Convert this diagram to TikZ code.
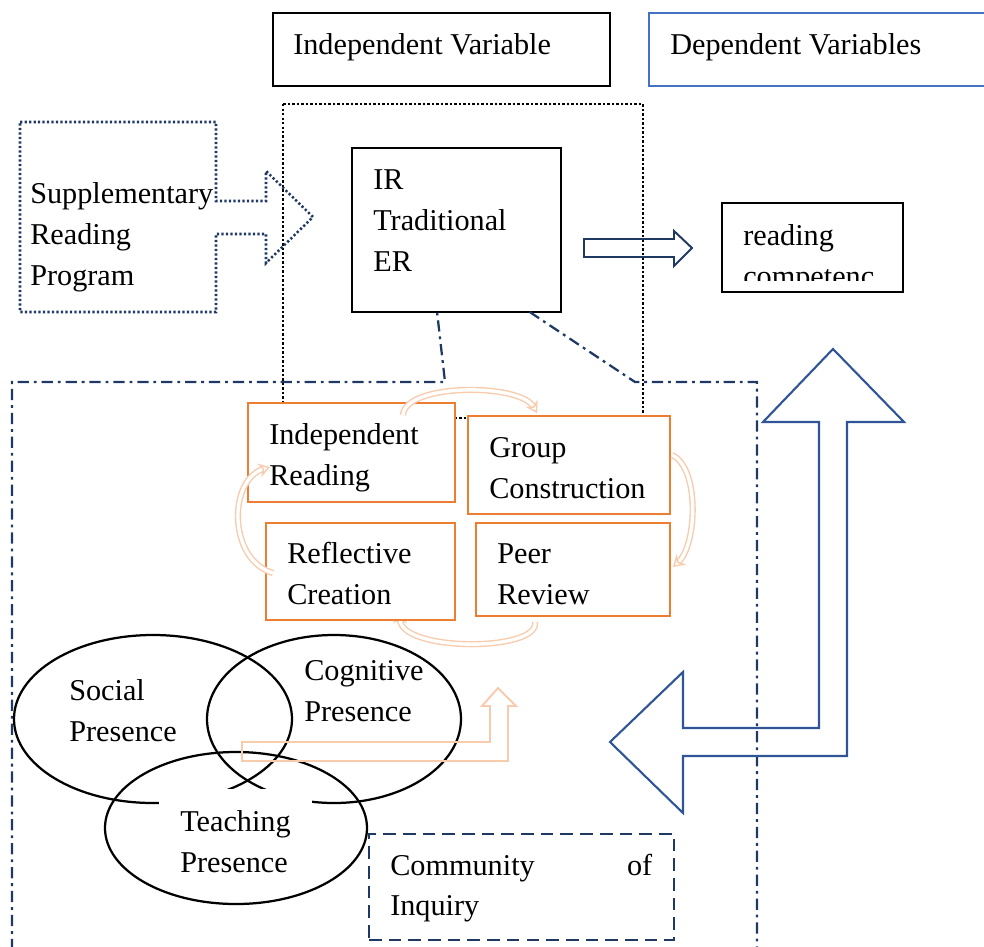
\documentclass[tikz,border=0pt]{standalone}
\usepackage{fontspec}
\setmainfont{Liberation Serif}
\usepackage{tikz}
\usetikzlibrary{arrows.meta}
\usetikzlibrary{shapes.geometric}
\usetikzlibrary{calc}

\definecolor{navy}{HTML}{1F3864}
\definecolor{dvblue}{HTML}{4472C4}
\definecolor{arrowblue}{HTML}{2F5597}
\definecolor{cycorange}{HTML}{ED7D31}
\definecolor{peach}{HTML}{F8CBAD}
\newcommand{\pxu}{0.025cm}

\begin{document}
\begin{tikzpicture}
        [ x=0.025cm, y=-0.025cm
        , txt/.style={font=\fontsize{21.5}{29}\selectfont, anchor=base west, align=left, inner sep=0}
        , boxframe/.style={draw, anchor=north west, inner sep=0, outer sep=0}
        , cycbox/.style={boxframe, draw=cycorange, fill=white, line width=1.8pt}
        , presence/.style={ellipse, draw, line width=1.6pt, inner sep=0}
        , cyclearrow/.style={draw=peach, line width=1pt, double=white, double distance=2.4pt, -{Stealth[open, length=8pt, width=10pt]}}
        , dotline/.style={line width=1.8pt, dash pattern=on 1.6pt off 1.6pt}
        , dashdotline/.style={draw=navy, line width=1.6pt, dash pattern=on 8pt off 3.5pt on 2pt off 3.5pt}
        ]
        \useasboundingbox (0,0) rectangle (984,946);

        % variable legend
        \node[boxframe, line width=1.6pt, minimum width=337*\pxu, minimum height=73*\pxu] (ivbox) at (273,13) {};
        \node[txt] (ivtext) at (293,55) {Independent Variable};
        \node[boxframe, draw=dvblue, line width=1.4pt, minimum width=340*\pxu, minimum height=73*\pxu] (dvbox) at (649,13) {};
        \node[txt] (dvtext) at (670,55) {Dependent Variables};

        % independent variable block
        \draw[dotline] (283,104) rectangle (643,418);
        \draw[dotline, navy] (20,122) -- (216,122) -- (216,201) -- (266,201) -- (266,171) -- (313,217)
            -- (266,263) -- (266,234) -- (216,234) -- (216,312) -- (20,312) -- cycle;
        \node[txt] (supptext) at (30,285) {Supplementary\\Reading\\Program};
        \node[boxframe, line width=0.8pt, minimum width=209*\pxu, minimum height=164*\pxu] (irbox) at (352,148) {};
        \node[txt] (irtext) at (373,271) {IR\\Traditional\\ER};

        % outcome
        \draw[navy, line width=1.4pt] (584,239) -- (674,239) -- (674,231) -- (692,248) -- (674,266) -- (674,257) -- (584,257) -- cycle;
        \node[boxframe, line width=2pt, minimum width=181*\pxu, minimum height=89*\pxu] (rcbox) at (722,203) {};
        \node[txt] (rctext) at (743,245) {reading};
        \begin{scope}
            \clip (722,203) rectangle (903,280);
            \node[txt] (rctext2) at (743,286) {competenc};
        \end{scope}

        % frame round the reading cycle
        \coordinate (frameL) at (445,382);
        \coordinate (frameR) at (635,382);
        \draw[dashdotline] (12,950) |- (frameL) -- ($(irbox.south west)!0.407!(irbox.south east)$);
        \draw[dashdotline] ($(irbox.south west)!0.85!(irbox.south east)$) -- (frameR) -| (757,950);

        % reading cycle
        \draw[cyclearrow] (535,622) .. controls (540,652) and (400,652) .. (400,612);
        \node[cycbox, minimum width=207*\pxu, minimum height=99*\pxu] (indread) at (248,403) {};
        \node[cycbox, minimum width=202*\pxu, minimum height=98*\pxu] (groupcon) at (468,416) {};
        \node[cycbox, minimum width=189*\pxu, minimum height=97*\pxu] (reflect) at (266,523) {};
        \node[cycbox, minimum width=194*\pxu, minimum height=93*\pxu] (peerrev) at (476,523) {};
        \node[txt] (indreadtext) at (269,485) {Independent\\Reading};
        \node[txt] (groupcontext) at (489,498) {Group\\Construction};
        \node[txt] (reflecttext) at (287,604) {Reflective\\Creation};
        \node[txt] (peerrevtext) at (497,604) {Peer\\Review};
        \draw[cyclearrow] (403,415) .. controls (405,383) and (520,383) .. (537,413);
        \draw[cyclearrow] (672,455) .. controls (700,468) and (697,545) .. (673,567);
        \draw[cyclearrow] (273,573) .. controls (228,560) and (228,480) .. (270,467);

        % community of inquiry
        \node[presence, minimum width=278*\pxu, minimum height=168*\pxu] (social) at (153,719) {};
        \node[presence, minimum width=254*\pxu, minimum height=168*\pxu] (cognitive) at (334,719) {};
        \fill[white] (159,789) rectangle (312,900);
        \node[presence, minimum width=262*\pxu, minimum height=152*\pxu] (teaching) at (236,828) {};
        \node[txt] (socialtext) at (69,741) {Social\\Presence};
        \node[txt] (cognitivetext) at (304,721) {Cognitive\\Presence};
        \node[txt] (teachingtext) at (180,872) {Teaching\\Presence};
        \draw[peach, line width=1.4pt] (242,742) -- (490,742) -- (490,706) -- (482,706) -- (498,688) -- (516,706)
            -- (508,706) -- (508,761) -- (242,761) -- cycle;
        \node[boxframe, draw=navy, line width=1.5pt, dash pattern=on 9pt off 5pt, minimum width=305*\pxu, minimum height=106*\pxu] (coibox) at (369,834) {};
        \node[txt, text width=262*\pxu] (coitext) at (390,875) {Community\hfill of\\Inquiry};

        % feedback to the dependent variable
        \draw[arrowblue, line width=1.5pt] (833,349) -- (904,422) -- (847,422) -- (847,756) -- (683,756) -- (683,813)
            -- (610,742) -- (683,672) -- (683,728) -- (819,728) -- (819,422) -- (763,422) -- cycle;
\end{tikzpicture}
\end{document}
